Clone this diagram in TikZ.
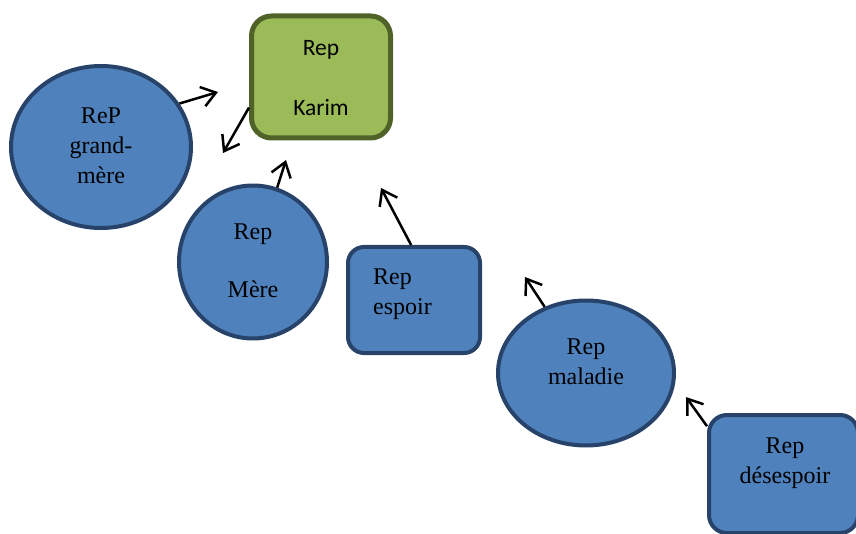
\documentclass[tikz,border=0pt]{standalone}
\usepackage{fontspec}
\setmainfont{Liberation Serif}
\newfontfamily\calibrilike{Carlito}
\usetikzlibrary{shapes.geometric,arrows.meta}
\definecolor{bluefill}{HTML}{4F81BD}
\definecolor{blueline}{HTML}{27436A}
\definecolor{greenfill}{HTML}{9BBB59}
\definecolor{greenline}{HTML}{4F6228}
\begin{document}
\begin{tikzpicture}[x=1pt,y=-1pt,
  blob/.style={ellipse,draw=blueline,fill=bluefill,line width=4pt,inner sep=0pt},
  card/.style={rectangle,rounded corners=18pt,draw=blueline,fill=bluefill,line width=4pt,inner sep=0pt},
  greencard/.style={rectangle,rounded corners=20pt,draw=greenline,fill=greenfill,line width=5pt,inner sep=0pt},
  lbl/.style={font=\fontsize{24}{30}\selectfont,align=center,inner sep=0pt},
  link/.style={-{Straight Barb[length=14pt,width=20pt]},line width=2.5pt,black}]
\useasboundingbox (0,0) rectangle (856,534);
\clip (0,0) rectangle (856,534);

% shapes
\node[blob,minimum width=180pt,minimum height=162pt] (gm) at (101,147) {};
\node[greencard,minimum width=139pt,minimum height=122pt] (karim) at (321,77) {};
\node[blob,minimum width=148pt,minimum height=153pt] (mere) at (253,262) {};
\node[card,rounded corners=16pt,minimum width=132pt,minimum height=106pt] (espoir) at (414,300) {};
\node[blob,minimum width=176pt,minimum height=145pt] (maladie) at (586,373) {};
\node[card,minimum width=149pt,minimum height=118pt] (desespoir) at (783.5,474) {};

% texts
\node[lbl] (gmt) at (101,146) {ReP\\grand-\\mère};
\node[lbl,font=\calibrilike\fontsize{23.5}{30}\selectfont] (karimt) at (321,78) {Rep\\[30pt]Karim};
\node[lbl] (meret) at (253,261) {Rep\\[28pt]Mère};
\node[lbl,align=left,anchor=west] (espoirt) at (373,294) {Rep\\espoir};
\node[lbl] (maladiet) at (586,362) {Rep\\maladie};
\node[lbl] (desespoirt) at (785,463) {Rep\\désespoir};

% arrow ends
\coordinate (e1) at (218,92);
\coordinate (e2) at (223,153);
\coordinate (e3) at (286,160);
\coordinate (e4) at (381,188);
\coordinate (e5) at (525,277);
\coordinate (e6) at (686,397);

% arrows
\draw[link] (gm.29) -- (e1);
\draw[link] (karim.203) -- (e2);
\draw[link] (mere.72) -- (e3);
\draw[link] (espoir.93) -- (e4);
\draw[link] (maladie.122) -- (e5);
\draw[link] (desespoir.148) -- (e6);
\end{tikzpicture}
\end{document}
